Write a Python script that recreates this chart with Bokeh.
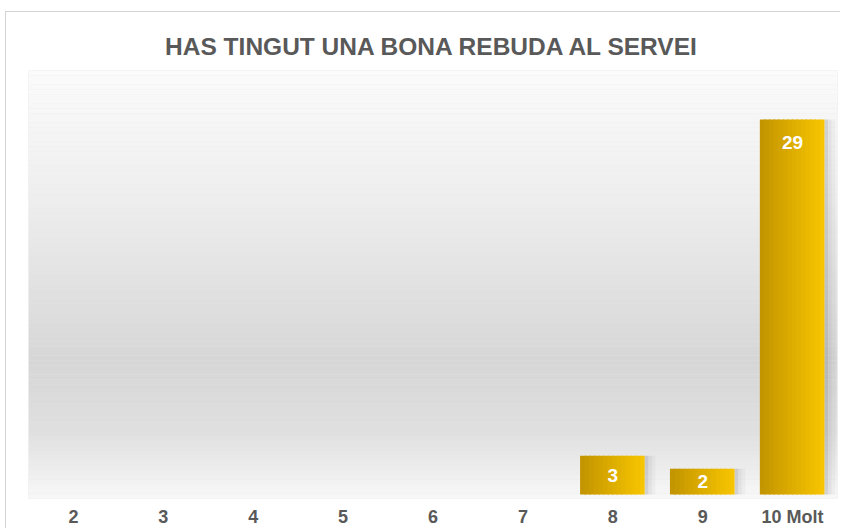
from bokeh.plotting import figure
from bokeh.models import ColumnDataSource, FactorRange, Range1d, BoxAnnotation, LabelSet
from bokeh.core.properties import value
from bokeh.transform import dodge
from bokeh.embed import file_html
from bokeh.resources import INLINE
import numpy as np

# ---- data ----
categories = ["2", "3", "4", "5", "6", "7", "8", "9", "10 Molt"]
counts = [0, 0, 0, 0, 0, 0, 3, 2, 29]
title_text = "HAS TINGUT UNA BONA REBUDA AL SERVEI"

# ---- figure ----
Y0, Y1 = -0.31, 32.79
p = figure(
    x_range=FactorRange(factors=categories, range_padding=0),
    y_range=Range1d(Y0, Y1),
    width=835, height=517,
    output_backend="svg", toolbar_location=None,
    min_border_left=22, min_border_right=4,
    min_border_top=58, min_border_bottom=20,
)
p.styles = {"margin-left": "5px", "margin-top": "11px",
            "border-left": "1px solid #d4d4d4", "border-top": "1px solid #d4d4d4"}
p.title.text = title_text
p.title.align = "center"
p.title.text_font = "Liberation Sans"
p.title.text_font_size = "24.5px"
p.title.text_font_style = "bold"
p.title.text_color = "#595959"
p.title.standoff = 21
p.outline_line_color = None
p.background_fill_color = "#e6e6e6"
p.border_fill_color = "white"
p.xgrid.visible = False
p.ygrid.visible = False
p.yaxis.visible = False
p.xaxis.axis_line_color = None
p.xaxis.major_tick_line_color = None
p.xaxis.minor_tick_line_color = None
p.xaxis.major_label_standoff = 2
p.xaxis.major_label_text_font = "Liberation Sans"
p.xaxis.major_label_text_font_size = "18px"
p.xaxis.major_label_text_font_style = "bold"
p.xaxis.major_label_text_color = "#595959"

# ---- background vertical gradient (style only) ----
stops_t = np.array([0.0, 0.3, 0.68, 0.85, 1.0])   # fraction from top of frame
stops_c = np.array([251, 238, 214, 224, 248])
n_b = 90
edges = np.linspace(Y1, Y0, n_b + 1)
for i in range(n_b):
    t = (i + 0.5) / n_b
    g = int(round(np.interp(t, stops_t, stops_c)))
    col = "#%02x%02x%02x" % (g, g, g)
    p.add_layout(BoxAnnotation(top=edges[i], bottom=edges[i + 1],
                               fill_color=col, fill_alpha=1.0,
                               line_color=None, level="underlay"))

# ---- bars (horizontal gold gradient built from strips) ----
src = ColumnDataSource(dict(cat=categories, val=counts))
bar_w = 0.71
n_s = 14
c_left = np.array([0xc2, 0x94, 0x00])
c_right = np.array([0xf8, 0xc6, 0x00])
sw = bar_w / n_s
# soft shadow at right
for off, a in [(bar_w / 2 + 0.02, 0.14), (bar_w / 2 + 0.06, 0.07), (bar_w / 2 + 0.10, 0.03)]:
    p.vbar(x=dodge("cat", off, range=p.x_range), top="val", width=0.04,
           source=src, fill_color="#000000", fill_alpha=a, line_color=None)
for k in range(n_s):
    f = (k + 0.5) / n_s
    c = (c_left + (c_right - c_left) * f).astype(int)
    col = "#%02x%02x%02x" % tuple(c)
    off = -bar_w / 2 + sw * (k + 0.5)
    w = sw * 1.35 if k < n_s - 1 else sw
    if k == n_s - 1:
        off = bar_w / 2 - sw / 2
    p.vbar(x=dodge("cat", off, range=p.x_range), top="val", width=w,
           source=src, fill_color=col, line_color=None)

# ---- value labels ----
px_per_unit = 12.9
lab_cats = [c for c, v in zip(categories, counts) if v > 0]
lab_vals = [v for v in counts if v > 0]
lab_y = [v - min(23 / px_per_unit, v / 2) for v in lab_vals]
lab_src = ColumnDataSource(dict(cat=lab_cats, y=lab_y, txt=[str(v) for v in lab_vals]))
p.add_layout(LabelSet(x="cat", y="y", text="txt", source=lab_src,
                      text_align="center", text_baseline="middle",
                      text_color="white", text_font=value("Liberation Sans"),
                      text_font_size="19px", text_font_style="bold"))

open("out.html", "w").write(file_html(p, INLINE))
